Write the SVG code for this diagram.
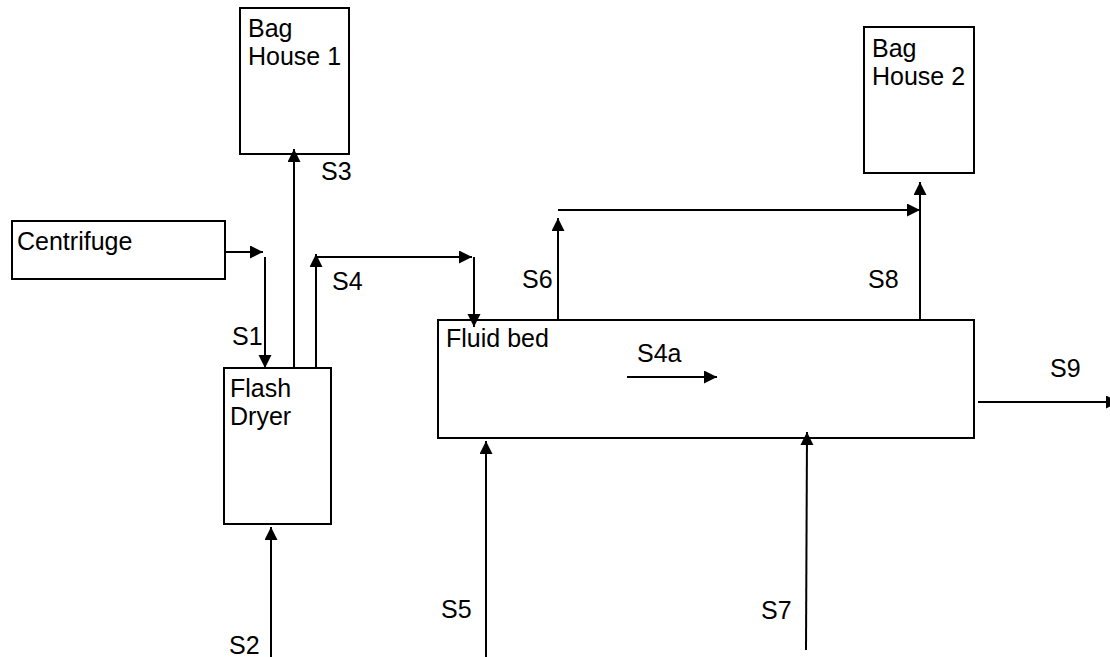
<svg xmlns="http://www.w3.org/2000/svg" width="1110" height="657" viewBox="0 0 1110 657">
<style>
.box{fill:#fff;stroke:#000;stroke-width:2}
.t{font-family:"Liberation Sans",Arial,sans-serif;font-size:25px;fill:#000}
.c{fill:none;stroke:#000;stroke-width:2;marker-end:url(#ah)}
</style>
<defs>
<marker id="ah" markerUnits="userSpaceOnUse" markerWidth="14" markerHeight="14" refX="13" refY="6.5" orient="auto">
<path d="M0,0 L13,6.5 L0,13 z" fill="#000"/>
</marker>
</defs>
<rect width="1110" height="657" fill="#fff"/>
<g id="bag-house-1">
<rect class="box" x="240" y="8" width="109" height="146"/>
<text class="t" x="248" y="37">Bag</text>
<text class="t" x="248" y="65">House 1</text>
</g>
<g id="bag-house-2">
<rect class="box" x="864" y="27" width="110" height="146"/>
<text class="t" x="872" y="57">Bag</text>
<text class="t" x="872" y="85">House 2</text>
</g>
<g id="centrifuge">
<rect class="box" x="12" y="221" width="213" height="58"/>
<text class="t" x="17" y="250">Centrifuge</text>
</g>
<g id="flash-dryer">
<rect class="box" x="224" y="368" width="107" height="156"/>
<text class="t" x="230" y="397">Flash</text>
<text class="t" x="230" y="425">Dryer</text>
</g>
<g id="fluid-bed">
<rect class="box" x="438" y="320" width="536" height="118"/>
<text class="t" x="446" y="347">Fluid bed</text>
</g>
<g id="connectors">
<path class="c" d="M225,252 L263,252"/>
<path class="c" d="M265,257 L265,368"/>
<path class="c" d="M294,367 L294,149"/>
<path class="c" d="M316,367 L316,254"/>
<path class="c" d="M316,257 L472,257"/>
<path class="c" d="M474,257 L474,327"/>
<path class="c" d="M558,320 L558,218"/>
<path class="c" d="M558,210 L920,210"/>
<path class="c" d="M920,321 L920,182"/>
<path class="c" d="M978,402 L1119,402"/>
<path class="c" d="M627,377 L717,377"/>
<path class="c" d="M486,657 L486,441"/>
<path class="c" d="M271,657 L271,527"/>
<path class="c" d="M806,650 L807,432"/>
</g>
<g id="labels">
<text class="t" x="232" y="345">S1</text>
<text class="t" x="229" y="654">S2</text>
<text class="t" x="321" y="180">S3</text>
<text class="t" x="332" y="290">S4</text>
<text class="t" x="637" y="362">S4a</text>
<text class="t" x="441" y="618">S5</text>
<text class="t" x="522" y="288">S6</text>
<text class="t" x="761" y="619">S7</text>
<text class="t" x="868" y="288">S8</text>
<text class="t" x="1050" y="377">S9</text>
</g>
</svg>
